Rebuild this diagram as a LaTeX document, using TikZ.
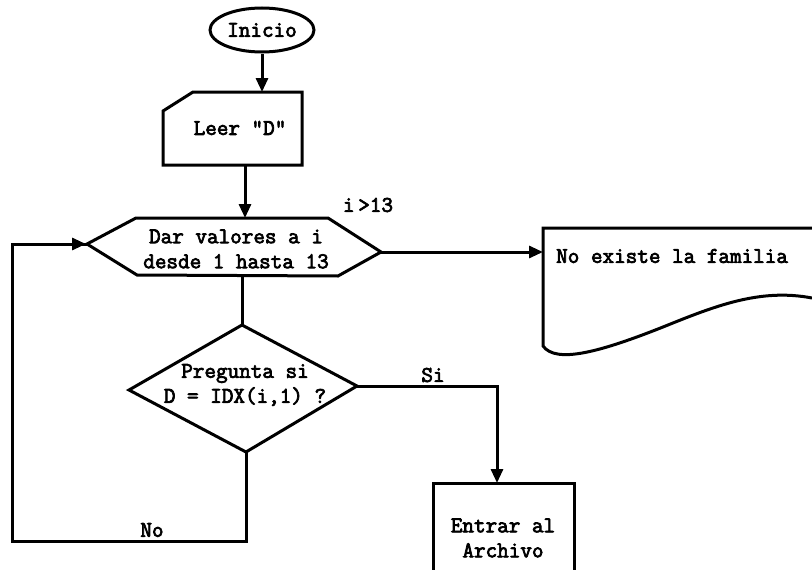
\documentclass[tikz,border=0pt]{standalone}
\usepackage{fontspec}
\setmonofont[AutoFakeBold=3.2]{Latin Modern Mono}
\usetikzlibrary{shapes.geometric,arrows.meta}
\begin{document}
\begin{tikzpicture}[x=1pt,y=-1pt,
  ln/.style={line width=3pt,line join=miter},
  tip/.style={-{Triangle[length=14pt,width=12pt]}},
  arr/.style={ln,tip},
  txt/.style={font=\ttfamily\bfseries\fontsize{22.5}{25}\selectfont,inner sep=0pt,align=center},
  lbl/.style={font=\ttfamily\bfseries\fontsize{22.5}{25}\selectfont,inner sep=0pt}]
\useasboundingbox (0,0) rectangle (812,570);
\clip (0,0) rectangle (812,570);

% Inicio
\node[ellipse,draw,ln,minimum width=104pt,minimum height=44pt,inner sep=0pt,txt] (ini) at (262,30) {Inicio};

% Leer box (cut corner)
\coordinate (l1) at (163,111);
\coordinate (l2) at (193,92);
\coordinate (l3) at (302,92);
\coordinate (l4) at (302,165);
\coordinate (l5) at (163,165);
\draw[ln] (l1) -- (l2) -- (l3) -- (l4) -- (l5) -- cycle;
\node[txt] (leer) at (240,128) {Leer "D"};
\coordinate (leertop) at (262,92);
\coordinate (leerbot) at (245,165);

% Hexagon
\coordinate (hL) at (87,244);
\coordinate (hTL) at (136,218);
\coordinate (hTR) at (328,218);
\coordinate (hR) at (381,252);
\coordinate (hBR) at (338,276);
\coordinate (hBL) at (137,275);
\draw[ln] (hL) -- (hTL) -- (hTR) -- (hR) -- (hBR) -- (hBL) -- cycle;
\node[txt] (dar) at (236,249) {Dar valores a i\\desde 1 hasta 13};
\coordinate (htop) at (245,218);
\coordinate (hbot) at (242,276);

% Diamond
\coordinate (dT) at (242,325);
\coordinate (dL) at (129,390);
\coordinate (dR) at (357,386);
\coordinate (dB) at (246,452);
\draw[ln] (dT) -- (dR) -- (dB) -- (dL) -- cycle;
\node[txt] (preg) at (245,385) {Pregunta si\\D = IDX(i,1) ?};

% Entrar box
\coordinate (eTL) at (433,483);
\coordinate (eTR) at (574,483);
\coordinate (eTop) at (497,483);
\draw[ln] (433,575) -- (eTL) -- (eTR) -- (574,575);
\node[txt] (entrar) at (503,538) {Entrar al\\Archivo};

% Document
\coordinate (docL) at (543,251);
\draw[ln] (812,228) -- (543,228) -- (543,346)
  .. controls (556,364) and (600,352) .. (663,327)
  .. controls (715,306) and (760,288) .. (812,298);
\node[lbl,anchor=west] (noex) at (556,256) {No existe la familia};

% Connectors
\draw[arr] (ini.south) -- (leertop);
\draw[arr] (leerbot) -- (htop);
\draw[ln] (hbot) -- (dT);
\draw[arr] (hR) -- (hR -| docL);
\coordinate (sic) at (497,386);
\draw[arr] (dR) -- (sic) -- (eTop);
\coordinate (nb) at (246,541);
\coordinate (nl) at (12,541);
\coordinate (nt) at (12,244);
\draw[ln] (dB) -- (nb) -- (nl) -- (nt) -- (hL);
\draw[ln,tip] (nt) -- (86,244);

% Labels
\node[lbl] (gt) at (368,205) {i\,>13};
\node[lbl] (si) at (433,375) {Si};
\node[lbl] (no) at (152,530) {No};
\end{tikzpicture}
\end{document}
